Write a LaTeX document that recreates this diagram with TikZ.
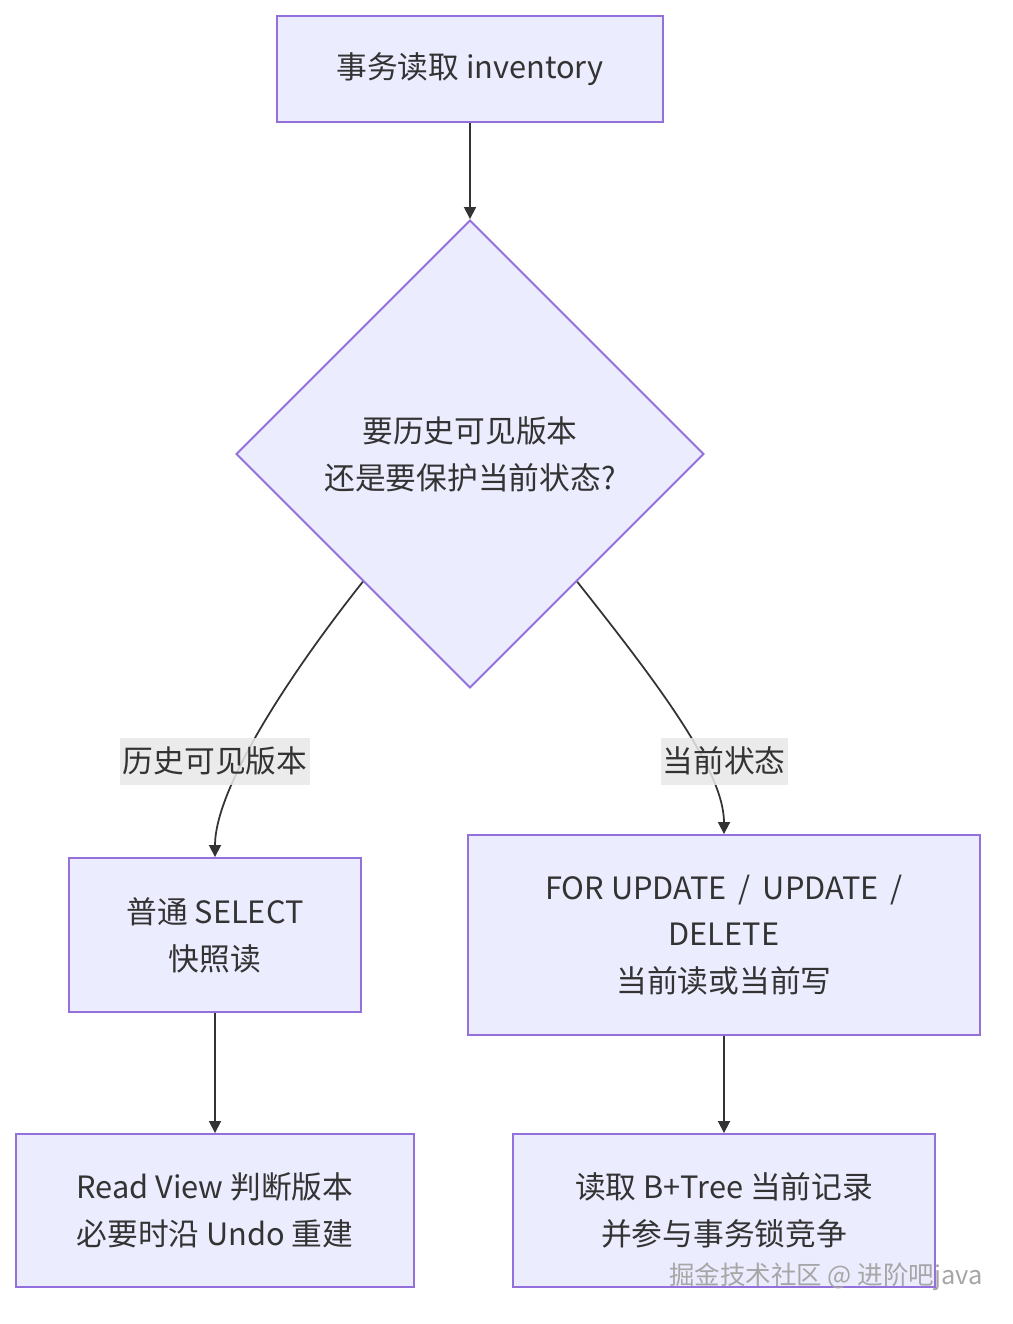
\documentclass[tikz,border=0pt]{standalone}
\usepackage{fontspec}
\setmainfont{Noto Sans CJK SC}
\usetikzlibrary{shapes.geometric,arrows.meta}
\definecolor{boxfill}{HTML}{ECECFF}
\definecolor{boxline}{HTML}{9370DB}
\definecolor{edgeline}{HTML}{333333}
\definecolor{labelfill}{HTML}{E8E8E8}
\begin{document}
\begin{tikzpicture}[x=0.02cm, y=-0.02cm,
  stepbox/.style={draw=boxline, fill=boxfill, line width=1.1pt, align=center, text=edgeline,
    font=\fontsize{17.5}{26.6}\selectfont},
  decbox/.style={stepbox, shape=diamond, aspect=1, inner sep=0pt},
  elabel/.style={fill=labelfill, fill opacity=0.85, text opacity=1, text=edgeline, inner sep=0pt,
    font=\fontsize{17.5}{26.6}\selectfont},
  flow/.style={draw=edgeline, line width=1pt, -{Triangle[length=0.24cm, width=0.24cm]}}]
\useasboundingbox (0,0) rectangle (1012,1324);

% TOP
\node[stepbox, minimum width=7.72cm, minimum height=2.12cm] (read) at (470,69) {事务读取 inventory};
\node[decbox, minimum width=9.36cm, minimum height=9.36cm] (ask) at (470,454) {要历史可见版本\\还是要保护当前状态?};
\draw[flow] (read) -- (ask);

% LEFT BRANCH
\node[stepbox, minimum width=5.84cm, minimum height=3.08cm] (snap) at (215,935) {普通 SELECT\\快照读};
\node[stepbox, minimum width=7.96cm, minimum height=3.06cm] (view) at (215,1210.5) {Read View 判断版本\\必要时沿 Undo 重建};
\draw[flow] (ask.230) .. controls (285,680) and (215,790) .. (snap.north);
\node[elabel, minimum width=3.8cm, minimum height=0.94cm] (histlbl) at (215,761) {历史可见版本};
\draw[flow] (snap) -- (view);

% RIGHT BRANCH
\node[stepbox, minimum width=10.24cm, minimum height=4cm] (curr) at (724,935) {FOR UPDATE \,/\, UPDATE \,/\\DELETE\\当前读或当前写};
\node[stepbox, minimum width=8.44cm, minimum height=3.06cm] (lock) at (724,1210.5) {读取 B+Tree 当前记录\\并参与事务锁竞争};
\draw[flow] (ask.310) .. controls (655,680) and (724,770) .. (curr.north);
\node[elabel, minimum width=2.54cm, minimum height=0.94cm] (currlbl) at (724,761) {当前状态};
\draw[flow] (curr) -- (lock);

% WATERMARK
\node[text=gray!70, inner sep=0pt, font=\fontsize{14.5}{16}\selectfont] (mark) at (826,1277) {掘金技术社区 @ 进阶吧java};
\end{tikzpicture}
\end{document}
